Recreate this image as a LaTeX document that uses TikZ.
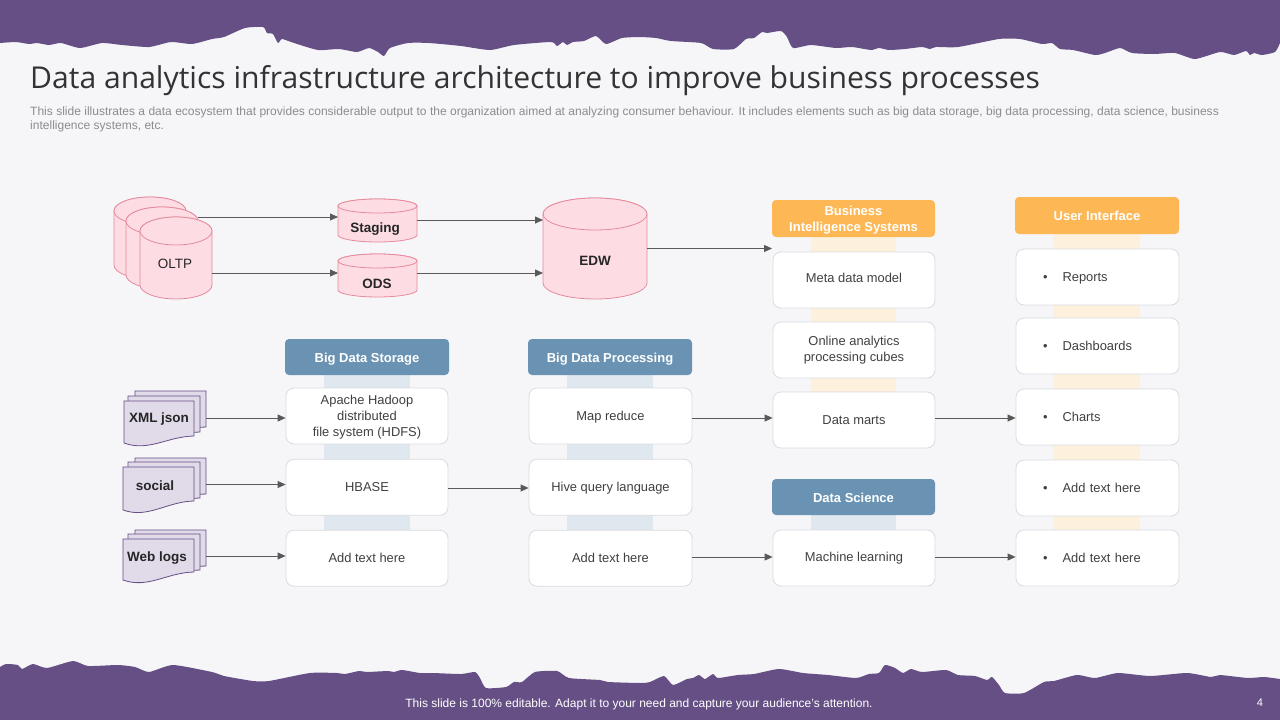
\documentclass[tikz,border=0pt]{standalone}
\usepackage{fontspec}
\setmainfont{Liberation Sans}
\newfontfamily\titlefont{Open Sans}
\usetikzlibrary{arrows.meta}
\definecolor{bgc}{HTML}{F6F6F9}
\definecolor{purp}{HTML}{654F85}
\definecolor{txt}{HTML}{404040}
\definecolor{pinkf}{HTML}{FDDDE3}
\definecolor{pinkd}{HTML}{E58A9C}
\definecolor{docf}{HTML}{E0DAE9}
\definecolor{blueh}{HTML}{6A93B3}
\definecolor{bluel}{HTML}{DFE7EF}
\definecolor{orah}{HTML}{FDB855}
\definecolor{oral}{HTML}{FDF0DC}
\definecolor{boxd}{HTML}{D9DBE0}
\newcommand{\fs}[2][16]{\fontsize{#2}{#1}\selectfont}
\newcommand{\cylshape}[6]{% name x1 x2 y1 y2 ry
  \pgfmathsetmacro{\cxm}{(#2+#3)/2}
  \pgfmathsetmacro{\crx}{(#3-#2)/2}
  \pgfmathsetmacro{\cka}{0.55*\crx}
  \pgfmathsetmacro{\ckb}{0.55*#6}
  \path[cyl] (#2,#4+#6) -- (#2,#5-#6)
    .. controls (#2,#5-#6+\ckb) and (\cxm-\cka,#5) .. (\cxm,#5)
    .. controls (\cxm+\cka,#5) and (#3,#5-#6+\ckb) .. (#3,#5-#6)
    -- (#3,#4+#6)
    .. controls (#3,#4+#6-\ckb) and (\cxm+\cka,#4) .. (\cxm,#4)
    .. controls (\cxm-\cka,#4) and (#2,#4+#6-\ckb) .. (#2,#4+#6) -- cycle;
  \path[cyl] (\cxm,#4+#6) ellipse[x radius=\crx, y radius=#6];
  \pgfmathsetmacro{\cw}{#3-#2}
  \pgfmathsetmacro{\ch}{#5-#4}
  \node[hold, minimum width=\cw pt, minimum height=\ch pt] (#1) at (\cxm,{(#4+#5)/2}) {};
}
\newcommand{\page}[5]{% x1 x2 ytop yright yleft
  \path[docp] (#1,#3) -- (#2,#3) -- (#2,#4)
    .. controls ({#1+0.62*(#2-#1)},#4+0.5) and ({#1+0.35*(#2-#1)},#5+9) .. (#1,#5) -- cycle;
}
\tikzset{
  x=1pt,y=-1pt,
  cyl/.style={draw=pinkd,fill=pinkf,line width=0.8pt},
  docp/.style={draw=purp,fill=docf,line width=0.8pt},
  hold/.style={draw=none,fill=none,inner sep=0pt,outer sep=0pt,minimum width=1pt,minimum height=1pt},
  arr/.style={draw=black!65,line width=0.8pt,-{Triangle[length=8pt,width=7pt,fill=black!65]}},
  lab/.style={text=black!85,font=\fs{13.5}\bfseries,inner sep=0pt},
  card/.style={draw=boxd,fill=white,rounded corners=8pt,line width=0.8pt,minimum height=56pt,minimum width=162pt,inner sep=0pt,align=center,text=txt,font=\fs{12.9},text depth=0pt},
  bcard/.style={card,minimum width=163pt,align=left,text width=135pt},
  hd/.style={rounded corners=4pt,inner sep=0pt,align=center,text=white,font=\fs{13}\bfseries,minimum width=164pt,text depth=0pt},
  bluehd/.style={hd,fill=blueh,minimum height=36pt,text height=10pt},
  orahd/.style={hd,fill=orah,minimum height=37pt},
}
\begin{document}
\begin{tikzpicture}
\useasboundingbox (0,0) rectangle (1280,720);
\fill[bgc] (0,0) rectangle (1280,720);
% torn bands
\fill[purp] (0,0) -- (0,43) -- plot[smooth,tension=0.35] coordinates {(0,43)(16,42)(29,44)(37,43)(49,45)(61,43)(80,48)(102,43)(122,45)(149,47)(171,42)(192,44)(212,39)(224,37)(245,28)(263,27)(267,33)(273,34)(278,43)(282,39)(294,43)(318,50)(339,49)(357,52)(369,48)(378,52)(384,56)(390,48)(408,43)(429,43)(461,46)(490,50)(514,45)(551,42)(557,46)(563,42)(567,45)(573,42)(584,41)(596,36)(606,44)(622,38)(640,37)(656,38)(671,41)(701,43)(713,49)(734,49)(746,39)(754,38)(762,32)(767,33)(781,31)(787,37)(793,48)(811,45)(836,48)(852,47)(871,50)(879,48)(889,50)(905,49)(922,47)(930,49)(936,47)(958,47)(999,39)(1020,39)(1042,44)(1052,43)(1060,49)(1073,50)(1095,55)(1105,53)(1120,48)(1132,53)(1154,54)(1175,53)(1195,59)(1220,52)(1234,55)(1246,51)(1250,55)(1254,53)(1262,55)(1275,52)(1280,43)} -- (1280,0) -- cycle;
\fill[purp] (0,720) -- (0,667) -- plot[smooth,tension=0.35] coordinates {(0,667)(6,664)(18,665)(22,669)(33,664)(47,668)(73,661)(88,666)(118,665)(135,667)(149,672)(173,665)(212,672)(224,676)(253,681)(269,681)(310,673)(337,673)(345,674)(359,671)(367,672)(388,671)(394,672)(402,670)(420,673)(433,673)(461,674)(475,672)(480,678)(486,688)(506,687)(514,682)(522,682)(535,672)(557,671)(569,678)(600,680)(608,682)(640,683)(650,682)(664,676)(673,685)(687,679)(693,678)(699,675)(705,679)(713,674)(718,678)(738,675)(754,674)(779,669)(803,673)(828,675)(856,678)(869,674)(879,673)(885,665)(895,668)(903,673)(911,669)(922,672)(946,670)(958,675)(975,676)(987,680)(992,677)(999,685)(1005,693)(1024,693)(1044,682)(1054,681)(1077,675)(1095,678)(1118,673)(1150,676)(1187,673)(1211,677)(1220,675)(1248,678)(1264,677)(1280,679)} -- (1280,720) -- cycle;
% header texts
\node[anchor=west,inner sep=0pt,text=black!80,font={\titlefont\fs[34]{30.1}}] (title) at (30,81) {Data analytics infrastructure architecture to improve business processes};
\node[anchor=north west,inner sep=0pt,text=black!45,font={\fs[14]{12.03}},align=left] (sub) at (30,106.5) {This slide illustrates a data ecosystem that provides considerable output to the organization aimed at analyzing consumer behaviour. It includes elements such as big data storage, big data processing, data science, business\\intelligence systems, etc.};
\node[inner sep=0pt,text=white,font=\fs{12}] (foot) at (639,704) {This slide is 100\% editable. Adapt it to your need and capture your audience’s attention.};
\node[inner sep=0pt,text=white,font=\fs{11}] (pageno) at (1260,703) {4};
% strips
\fill[bluel] (324,375) rectangle (410,530);
\fill[bluel] (567,375) rectangle (653,530);
\fill[oral] (811,237) rectangle (896,392);
\fill[bluel] (811,515) rectangle (896,530);
\fill[oral] (1053,234) rectangle (1140,530);
% cylinders
\cylshape{oltpa}{114}{186}{197}{279}{14}
\cylshape{oltpb}{126}{198}{207}{289}{14}
\cylshape{oltp}{140}{212}{217}{299}{14}
\cylshape{staging}{338}{417}{199}{242}{7}
\cylshape{ods}{338}{417}{254}{297}{7}
\cylshape{edw}{543}{647}{198}{299}{16}
\node[lab,font=\fs{13.5}] (oltpt) at (175,264) {OLTP};
\node[lab] (stagingt) at (375,229) {Staging};
\node[lab] (odst) at (377,284) {ODS};
\node[lab] (edwt) at (595,261) {EDW};
% documents
\page{135}{206}{391}{427}{433}
\page{128}{200}{396}{432}{438}
\page{124}{194}{401}{436}{443}
\node[hold,minimum width=82pt,minimum height=52pt] (xml) at (165,417) {};
\node[lab] (xmlt) at (159,419) {XML json};
\page{135}{206}{458}{494}{500}
\page{128}{200}{462}{498}{505}
\page{123}{194}{467}{501}{510}
\node[hold,minimum width=83pt,minimum height=52pt] (soc) at (164.5,484) {};
\node[lab] (soct) at (155,486) {social};
\page{135}{206}{530}{566}{571}
\page{128}{200}{534}{570}{575}
\page{123}{194}{539}{572}{580}
\node[hold,minimum width=83pt,minimum height=50pt] (web) at (164.5,555) {};
\node[lab] (webt) at (157,558) {Web logs};
% headers
\node[bluehd] (hstore) at (367,357) {Big Data Storage};
\node[bluehd] (hproc) at (610,357) {Big Data Processing};
\node[orahd,minimum width=163pt,text depth=-2pt] (hbi) at (853.5,218.5) {Business\\Intelligence Systems};
\node[bluehd,minimum width=163pt] (hds) at (853.5,497) {Data Science};
\node[orahd,text height=10pt] (hui) at (1097,215.5) {User Interface};
% cards
\node[card] (hdfs) at (367,416) {Apache Hadoop\\distributed\\file system (HDFS)};
\node[card] (hbase) at (367,487.25) {HBASE};
\node[card] (addA) at (367,558.25) {Add text here};
\node[card,minimum width=163pt] (mapr) at (610.5,416) {Map reduce};
\node[card,minimum width=163pt] (hive) at (610.5,487.25) {Hive query language};
\node[card,minimum width=163pt] (addB) at (610.5,558.25) {Add text here};
\node[card,text depth=4pt] (meta) at (854,280) {Meta data model};
\node[card,text depth=2pt] (olap) at (854,350) {Online analytics\\processing cubes};
\node[card] (marts) at (854,420) {Data marts};
\node[card,text depth=2pt] (ml) at (854,558) {Machine learning};
\node[bcard] (ra) at (1097.5,277) {\hspace*{13pt}•\hspace{15pt}Reports};
\node[bcard] (rb) at (1097.5,346) {\hspace*{13pt}•\hspace{15pt}Dashboards};
\node[bcard] (rc) at (1097.5,417) {\hspace*{13pt}•\hspace{15pt}Charts};
\node[bcard] (rd) at (1097.5,488) {\hspace*{13pt}•\hspace{15pt}Add text here};
\node[bcard] (re) at (1097.5,558) {\hspace*{13pt}•\hspace{15pt}Add text here};
% connectors
\coordinate (biin) at (772,248.5);
\draw[arr] ([yshift=31pt]oltpb.east) -- ([yshift=3.5pt]staging.west);
\draw[arr] ([yshift=-15pt]oltp.east) -- ([yshift=2.5pt]ods.west);
\draw[arr] ([yshift=0.5pt]staging.east) -- ([yshift=28.5pt]edw.west);
\draw[arr] ([yshift=2.5pt]ods.east) -- ([yshift=-24.5pt]edw.west);
\draw[arr] (edw.east) -- (biin);
\draw[arr] ([yshift=-1pt]xml.east) -- ([yshift=-2pt]hdfs.west);
\draw[arr] ([yshift=-0.5pt]soc.east) -- ([yshift=2.75pt]hbase.west);
\draw[arr] ([yshift=-1pt]web.east) -- ([yshift=2.25pt]addA.west);
\draw[arr] ([yshift=-2pt]mapr.east) -- ([yshift=2pt]marts.west);
\draw[arr] ([yshift=2pt]marts.east) -- ([yshift=-1pt]rc.west);
\draw[arr] ([yshift=-0.75pt]hbase.east) -- ([yshift=-0.75pt]hive.west);
\draw[arr] ([yshift=1.25pt]addB.east) -- ([yshift=1pt]ml.west);
\draw[arr] ([yshift=1pt]ml.east) -- ([yshift=1pt]re.west);
\end{tikzpicture}
\end{document}
